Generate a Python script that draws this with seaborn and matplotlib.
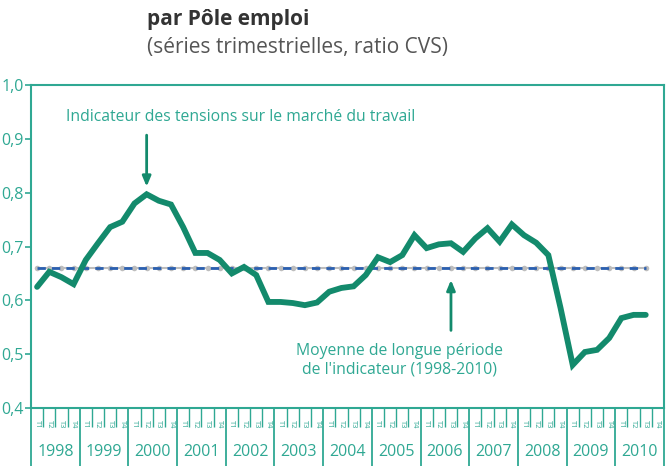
import numpy as np
import pandas as pd
import seaborn as sns
import matplotlib
matplotlib.use('Agg')
from matplotlib import pyplot as plt
from matplotlib import transforms

years = list(range(1998, 2011))
quarter_names = ['T1', 'T2', 'T3', 'T4']

# indicateur des tensions, trimestres 1998T1 .. 2010T3
tension = [0.625, 0.653, 0.643, 0.630, 0.675, 0.706, 0.736, 0.746, 0.780, 0.797,
           0.785, 0.778, 0.736, 0.688, 0.688, 0.675, 0.650, 0.662, 0.647, 0.597,
           0.597, 0.595, 0.591, 0.596, 0.616, 0.623, 0.626, 0.647, 0.680, 0.671,
           0.684, 0.721, 0.697, 0.704, 0.706, 0.690, 0.715, 0.734, 0.709, 0.741,
           0.721, 0.707, 0.684, 0.586, 0.480, 0.504, 0.508, 0.530, 0.567, 0.573,
           0.573]
moyenne = [0.66] * len(tension)

y_ticks = [0.4, 0.5, 0.6, 0.7, 0.8, 0.9, 1.0]

teal = '#2fa893'
green = '#138a6c'

sns.set_style('white')
plt.rcParams['font.family'] = ['Open Sans', 'DejaVu Sans']

df = pd.DataFrame({'q': np.arange(len(tension)), 'tension': tension, 'moyenne': moyenne})

fig = plt.figure(figsize=(6.71, 4.68), dpi=100)
ax = fig.add_axes([31 / 671, 60 / 468, 633 / 671, 323 / 468])

sns.lineplot(data=df, x='q', y='moyenne', ax=ax, color='#bdbdbd', lw=1.5,
             marker='o', markersize=4, markeredgewidth=0)
sns.lineplot(data=df, x='q', y='moyenne', ax=ax, color='#2a5fb0', lw=2,
             linestyle=(0, (3, 2.2)))
sns.lineplot(data=df, x='q', y='tension', ax=ax, color=green, lw=4.2,
             solid_joinstyle='miter')

n_q = len(years) * 4
ax.set_xlim(-0.5, n_q - 0.5)
ax.set_ylim(0.4, 1.0)
ax.set_xlabel('')
ax.set_ylabel('')

ax.set_yticks(y_ticks)
ax.set_yticklabels([f'{v:.1f}'.replace('.', ',') for v in y_ticks])
ax.tick_params(axis='y', colors=teal, labelcolor=teal, labelsize=11.5,
               length=4, width=1.2, left=True, pad=1)

# graduations trimestres / années
ax.set_xticks(np.arange(0, n_q + 1, 4) - 0.5)
ax.set_xticks(np.arange(0, n_q + 1) - 0.5, minor=True)
ax.set_xticklabels([])
ax.tick_params(axis='x', which='major', colors=teal, length=42, width=1.3,
               bottom=True, direction='out')
ax.tick_params(axis='x', which='minor', colors=teal, length=14, width=1.0,
               bottom=True, direction='out')

for s in ax.spines.values():
    s.set_color(teal)
    s.set_linewidth(1.5)

trans = transforms.blended_transform_factory(ax.transData, fig.transFigure)
for k, yr in enumerate(years):
    ax.text(4 * k + 1.5, (468 - 452) / 468, str(yr), transform=trans,
            ha='center', va='center', color=teal, fontsize=11.5)
    for j, qn in enumerate(quarter_names):
        ax.text(4 * k + j, (468 - 424) / 468, qn, transform=trans,
                ha='center', va='center', color=teal, fontsize=5.5,
                rotation=-90)

# annotations
ax.text(16.7, 0.94, 'Indicateur des tensions sur le marché du travail',
        ha='center', va='center', color=teal, fontsize=11.3)
ax.annotate('', xy=(9, 0.806), xytext=(9, 0.912),
            arrowprops=dict(arrowstyle='-|>,head_width=0.25,head_length=0.6',
                            color=green, lw=2))
ax.text(29.8, 0.488, 'Moyenne de longue période\nde l\'indicateur (1998-2010)',
        ha='center', va='center', color=teal, fontsize=11.3, linespacing=1.2)
ax.annotate('', xy=(34.0, 0.643), xytext=(34.0, 0.539),
            arrowprops=dict(arrowstyle='-|>,head_width=0.25,head_length=0.6',
                            color=green, lw=2))

fig.text(147 / 671, 1 - 20 / 468, 'par Pôle emploi', fontweight='bold',
         fontsize=15, color='#333333', ha='left', va='center')
fig.text(147 / 671, 1 - 48 / 468, '(séries trimestrielles, ratio CVS)',
         fontsize=15, color='#555555', ha='left', va='center')

fig.savefig('out.png', dpi=100)
